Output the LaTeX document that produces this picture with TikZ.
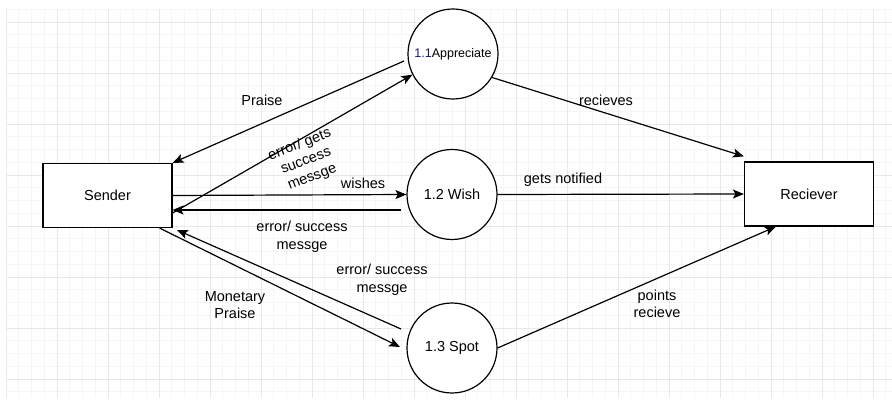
\documentclass[tikz,border=0pt]{standalone}
\usepackage{fontspec}
\setmainfont{Liberation Sans}
\usetikzlibrary{arrows.meta}
\definecolor{gridminor}{HTML}{F5F5F5}
\definecolor{gridmajor}{HTML}{E8E8E8}
\definecolor{navy}{HTML}{1A1A70}
\begin{document}
\begin{tikzpicture}[x=1pt,y=-1pt,
	proc/.style={draw,circle,line width=1.2pt,minimum size=90pt,inner sep=0pt,fill=white},
	ent/.style={draw,rectangle,line width=1.2pt,minimum width=129pt,minimum height=64pt,fill=white},
	flow/.style={line width=1.2pt,-{Stealth[length=11pt,width=9pt,inset=2.5pt]}},
	lbl/.style={align=center,font=\fontsize{14.5}{17.5}\selectfont}]
			\useasboundingbox (0,0) rectangle (892,403);
			% grid
			\foreach \i in {0,...,69} \draw[gridminor,line width=0.6pt] (6+12.75*\i,9) -- (6+12.75*\i,398);
			\foreach \j in {0,...,30} \draw[gridminor,line width=0.6pt] (6,9.25+12.75*\j) -- (892,9.25+12.75*\j);
			\foreach \i in {0,...,17} \draw[gridmajor,line width=0.6pt] (6+51*\i,9) -- (6+51*\i,398);
			\foreach \j in {0,...,7} \draw[gridmajor,line width=0.6pt] (6,22+51*\j) -- (892,22+51*\j);
			% nodes
			\node[ent,lbl] (sender) at (107.5,195.5) {Sender};
			\node[ent,lbl] (recv) at (809,194) {Reciever};
			\node[proc,font=\fontsize{12.5}{15}\selectfont] (p1) at (453,54) {\textcolor{navy}{1.1}Appreciate};
			\node[proc,lbl] (p2) at (452,194.5) {1.2 Wish};
			\node[proc,lbl] (p3) at (452,348) {1.3 Spot};
			% flows
			\coordinate (p1out) at (404,61);
			\coordinate (p2out) at (401,210);
			\coordinate (p3out) at (401,329);
			\coordinate (p3in) at (400,347);
			\coordinate (sin) at (177,230);
			\draw[flow] (p1out) -- (sender.north east);
			\draw[flow] ([yshift=-17.5pt]sender.east) -- (p1.207);
			\draw[flow] (sender.east) -- (p2.west);
			\draw[flow] (p2out) -- (sender.east |- p2out);
			\draw[flow] ([xshift=-13pt]sender.south east) -- (p3in);
			\draw[flow] (p3out) -- (sin);
			\draw[flow] (p1.-31) -- ([yshift=5pt]recv.north west);
			\draw[flow] (p2.east) -- (recv.west);
			\draw[flow] (p3.east) -- ([xshift=32pt]recv.south west);
			% labels
			\node[lbl] (lpraise) at (262,100) {Praise};
			\node[lbl,rotate=21] (lerr1) at (306,161) {error/ gets\\success\\messge};
			\node[lbl] (lwish) at (363,183) {wishes};
			\node[lbl] (lerr2) at (302,237) {error/ success\\messge};
			\node[lbl] (lerr3) at (382,280) {error/ success\\messge};
			\node[lbl] (lmon) at (235,305) {Monetary\\Praise};
			\node[lbl] (lrec) at (606,100) {recieves};
			\node[lbl] (lnot) at (563,180) {gets notified};
			\node[lbl] (lpts) at (657,304) {points\\recieve};
\end{tikzpicture}
\end{document}
